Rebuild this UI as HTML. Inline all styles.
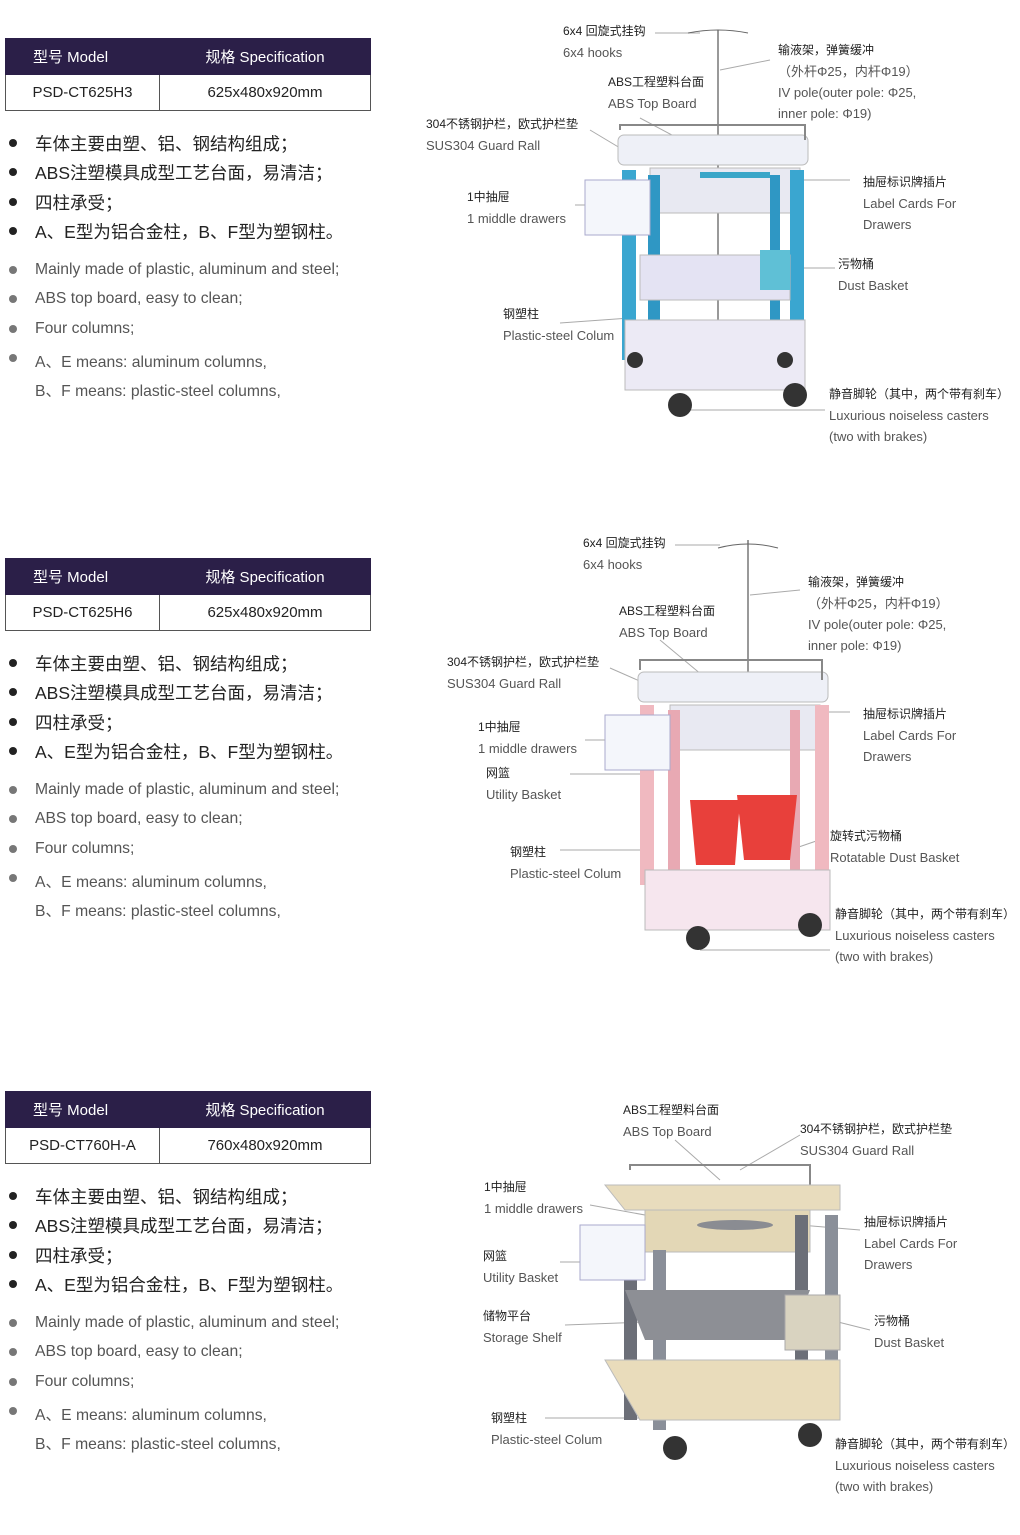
<!DOCTYPE html>
<html><head><meta charset="utf-8"><style>
*{margin:0;padding:0;box-sizing:border-box}
body{width:1020px;height:1535px;background:#fff;position:relative;overflow:hidden;font-family:"Liberation Sans","Noto Sans CJK SC",sans-serif}
.a{position:absolute;white-space:nowrap}
table{position:absolute;left:5px;width:366px;border-collapse:collapse;font-size:15px}
th{background:#2b1f48;color:#fff;font-weight:normal;height:36px;border:1px solid #2b1f48}
th.m{text-align:left;padding-left:27px}
td{height:36px;text-align:center;border:1px solid #555;color:#222}
.cn{font-size:17.5px;color:#222}
.en{font-size:15.7px;color:#555}
.dot{position:absolute;width:8px;height:8px;border-radius:50%}
.l{font-size:12px;color:#222;position:absolute;white-space:nowrap;line-height:21px}
.l span{color:#555;display:block;font-size:13px}
svg{position:absolute;left:0;top:0}
</style></head><body>

<table style="top:38px"><tr><th class="m" style="width:154px">型号 Model</th><th>规格 Specification</th></tr><tr><td>PSD-CT625H3</td><td>625x480x920mm</td></tr></table>
<table style="top:558px"><tr><th class="m" style="width:154px">型号 Model</th><th>规格 Specification</th></tr><tr><td>PSD-CT625H6</td><td>625x480x920mm</td></tr></table>
<table style="top:1091px"><tr><th class="m" style="width:154px">型号 Model</th><th>规格 Specification</th></tr><tr><td>PSD-CT760H-A</td><td>760x480x920mm</td></tr></table>

<div style="position:absolute;left:0;top:0">
<div class="dot" style="left:9px;top:139px;background:#222"></div><div class="a cn" style="left:35px;top:131px">车体主要由塑、铝、钢结构组成；</div>
<div class="dot" style="left:9px;top:168px;background:#222"></div><div class="a cn" style="left:35px;top:160px">ABS注塑模具成型工艺台面，易清洁；</div>
<div class="dot" style="left:9px;top:198px;background:#222"></div><div class="a cn" style="left:35px;top:190px">四柱承受；</div>
<div class="dot" style="left:9px;top:227px;background:#222"></div><div class="a cn" style="left:35px;top:219px">A、E型为铝合金柱，B、F型为塑钢柱。</div>
<div class="dot" style="left:9px;top:266px;background:#777"></div><div class="a en" style="left:35px;top:261px">Mainly made of plastic, aluminum and steel;</div>
<div class="dot" style="left:9px;top:295px;background:#777"></div><div class="a en" style="left:35px;top:290px">ABS top board, easy to clean;</div>
<div class="dot" style="left:9px;top:325px;background:#777"></div><div class="a en" style="left:35px;top:320px">Four columns;</div>
<div class="dot" style="left:9px;top:354px;background:#777"></div><div class="a en" style="left:35px;top:349px">A、E means: aluminum columns,</div>
<div class="a en" style="left:35px;top:378px">B、F means: plastic-steel columns,</div>
</div>
<div style="position:absolute;left:0;top:520px">
<div class="dot" style="left:9px;top:139px;background:#222"></div><div class="a cn" style="left:35px;top:131px">车体主要由塑、铝、钢结构组成；</div>
<div class="dot" style="left:9px;top:168px;background:#222"></div><div class="a cn" style="left:35px;top:160px">ABS注塑模具成型工艺台面，易清洁；</div>
<div class="dot" style="left:9px;top:198px;background:#222"></div><div class="a cn" style="left:35px;top:190px">四柱承受；</div>
<div class="dot" style="left:9px;top:227px;background:#222"></div><div class="a cn" style="left:35px;top:219px">A、E型为铝合金柱，B、F型为塑钢柱。</div>
<div class="dot" style="left:9px;top:266px;background:#777"></div><div class="a en" style="left:35px;top:261px">Mainly made of plastic, aluminum and steel;</div>
<div class="dot" style="left:9px;top:295px;background:#777"></div><div class="a en" style="left:35px;top:290px">ABS top board, easy to clean;</div>
<div class="dot" style="left:9px;top:325px;background:#777"></div><div class="a en" style="left:35px;top:320px">Four columns;</div>
<div class="dot" style="left:9px;top:354px;background:#777"></div><div class="a en" style="left:35px;top:349px">A、E means: aluminum columns,</div>
<div class="a en" style="left:35px;top:378px">B、F means: plastic-steel columns,</div>
</div>
<div style="position:absolute;left:0;top:1053px">
<div class="dot" style="left:9px;top:139px;background:#222"></div><div class="a cn" style="left:35px;top:131px">车体主要由塑、铝、钢结构组成；</div>
<div class="dot" style="left:9px;top:168px;background:#222"></div><div class="a cn" style="left:35px;top:160px">ABS注塑模具成型工艺台面，易清洁；</div>
<div class="dot" style="left:9px;top:198px;background:#222"></div><div class="a cn" style="left:35px;top:190px">四柱承受；</div>
<div class="dot" style="left:9px;top:227px;background:#222"></div><div class="a cn" style="left:35px;top:219px">A、E型为铝合金柱，B、F型为塑钢柱。</div>
<div class="dot" style="left:9px;top:266px;background:#777"></div><div class="a en" style="left:35px;top:261px">Mainly made of plastic, aluminum and steel;</div>
<div class="dot" style="left:9px;top:295px;background:#777"></div><div class="a en" style="left:35px;top:290px">ABS top board, easy to clean;</div>
<div class="dot" style="left:9px;top:325px;background:#777"></div><div class="a en" style="left:35px;top:320px">Four columns;</div>
<div class="dot" style="left:9px;top:354px;background:#777"></div><div class="a en" style="left:35px;top:349px">A、E means: aluminum columns,</div>
<div class="a en" style="left:35px;top:378px">B、F means: plastic-steel columns,</div>
</div>

<svg width="1020" height="1535">
<g stroke="#aaa" stroke-width="1" fill="none">
<path d="M655 33H700M770 60L720 70M640 118L700 150M590 130L640 160M575 205L690 205M850 180L770 180M835 268L790 268M560 323L630 318M825 410L690 410"/>
<path d="M675 545H720M800 590L750 595M660 640L720 690M610 668L660 690M585 740L690 740M850 712L780 712M570 774L640 774M825 838L790 850M560 850L640 850M830 950L700 950"/>
<path d="M675 1140L720 1180M800 1135L740 1170M590 1205L700 1225M860 1230L800 1225M560 1262L610 1262M565 1325L700 1320M870 1330L830 1320M545 1418L680 1418"/>
</g>
<g>
<line x1="718" y1="30" x2="718" y2="330" stroke="#999" stroke-width="2"/>
<path d="M688 33 Q718 27 748 33" stroke="#666" fill="none"/>
<rect x="618" y="135" width="190" height="30" rx="6" fill="#eef0f7" stroke="#bbb"/>
<path d="M620 130 V125 H805 V140" stroke="#888" fill="none" stroke-width="2"/>
<rect x="650" y="168" width="150" height="45" fill="#e8e9f2" stroke="#bbb"/>
<rect x="700" y="172" width="70" height="6" fill="#3aa6c8"/>
<rect x="622" y="170" width="14" height="190" fill="#3aa6d0"/>
<rect x="648" y="175" width="12" height="190" fill="#2f97c4"/>
<rect x="790" y="170" width="14" height="190" fill="#3aa6d0"/>
<rect x="770" y="175" width="10" height="180" fill="#2f97c4"/>
<rect x="640" y="255" width="150" height="45" fill="#e4e3f3" stroke="#bbb"/>
<rect x="760" y="250" width="30" height="40" fill="#5fc0d6"/>
<rect x="585" y="180" width="65" height="55" fill="#f4f6fb" stroke="#aac"/>
<rect x="625" y="320" width="180" height="70" fill="#eceaf5" stroke="#bbb"/>
<circle cx="680" cy="405" r="12" fill="#333"/><circle cx="795" cy="395" r="12" fill="#333"/>
<circle cx="635" cy="360" r="8" fill="#333"/><circle cx="785" cy="360" r="8" fill="#333"/>
</g>
<g>
<line x1="748" y1="540" x2="748" y2="700" stroke="#999" stroke-width="2"/>
<path d="M718 548 Q748 540 778 548" stroke="#666" fill="none"/>
<rect x="638" y="672" width="190" height="30" rx="6" fill="#eef0f7" stroke="#bbb"/>
<path d="M640 670 V660 H822 V680" stroke="#888" fill="none" stroke-width="2"/>
<rect x="670" y="705" width="150" height="45" fill="#e8e9f2" stroke="#bbb"/>
<rect x="640" y="705" width="14" height="180" fill="#f0b9c0"/>
<rect x="668" y="710" width="12" height="180" fill="#e8a9b3"/>
<rect x="815" y="705" width="14" height="180" fill="#f0b9c0"/>
<rect x="790" y="710" width="10" height="170" fill="#e8a9b3"/>
<rect x="605" y="715" width="65" height="55" fill="#f4f6fb" stroke="#aac"/>
<path d="M690 800 H740 L735 865 H696Z" fill="#e8403b"/>
<path d="M737 795 H797 L790 860 H744Z" fill="#e8403b"/>
<rect x="645" y="870" width="185" height="60" fill="#f6e6ee" stroke="#bbb"/>
<circle cx="698" cy="938" r="12" fill="#333"/><circle cx="810" cy="925" r="12" fill="#333"/>
</g>
<g>
<path d="M630 1170 V1165 H810 V1190" stroke="#888" fill="none" stroke-width="2"/>
<path d="M605 1185 H840 V1210 H625Z" fill="#e8dcbd" stroke="#bbb"/>
<rect x="645" y="1210" width="165" height="42" fill="#e3d7b6" stroke="#bbb"/>
<ellipse cx="735" cy="1225" rx="38" ry="5" fill="#8a8c92"/>
<rect x="624" y="1250" width="13" height="170" fill="#6c6f78"/>
<rect x="653" y="1250" width="13" height="180" fill="#8a8f99"/>
<rect x="795" y="1215" width="13" height="200" fill="#6c6f78"/>
<rect x="825" y="1215" width="13" height="200" fill="#8a8f99"/>
<path d="M625 1290 H810 L790 1340 H645Z" fill="#8d8f95"/>
<rect x="580" y="1225" width="65" height="55" fill="#f4f6fb" stroke="#aac"/>
<rect x="785" y="1295" width="55" height="55" fill="#d9d3c0" stroke="#aaa"/>
<path d="M605 1360 H840 V1420 H640Z" fill="#e9dcbb" stroke="#bbb"/>
<circle cx="675" cy="1448" r="12" fill="#333"/><circle cx="810" cy="1435" r="12" fill="#333"/>
</g>
</svg>

<div class="l" style="left:563px;top:21px">6x4 回旋式挂钩<span>6x4 hooks</span></div>
<div class="l" style="left:778px;top:40px">输液架，弹簧缓冲<span>（外杆Φ25，内杆Φ19）</span><span>IV pole(outer pole: Φ25,</span><span>inner pole: Φ19)</span></div>
<div class="l" style="left:608px;top:72px">ABS工程塑料台面<span>ABS Top Board</span></div>
<div class="l" style="left:426px;top:114px">304不锈钢护栏，欧式护栏垫<span>SUS304 Guard Rall</span></div>
<div class="l" style="left:467px;top:187px">1中抽屉<span>1 middle drawers</span></div>
<div class="l" style="left:863px;top:172px">抽屉标识牌插片<span>Label Cards For</span><span>Drawers</span></div>
<div class="l" style="left:838px;top:254px">污物桶<span>Dust Basket</span></div>
<div class="l" style="left:503px;top:304px">钢塑柱<span>Plastic-steel Colum</span></div>
<div class="l" style="left:829px;top:384px">静音脚轮（其中，两个带有刹车）<span>Luxurious noiseless casters</span><span>(two with brakes)</span></div>
<div class="l" style="left:583px;top:533px">6x4 回旋式挂钩<span>6x4 hooks</span></div>
<div class="l" style="left:808px;top:572px">输液架，弹簧缓冲<span>（外杆Φ25，内杆Φ19）</span><span>IV pole(outer pole: Φ25,</span><span>inner pole: Φ19)</span></div>
<div class="l" style="left:619px;top:601px">ABS工程塑料台面<span>ABS Top Board</span></div>
<div class="l" style="left:447px;top:652px">304不锈钢护栏，欧式护栏垫<span>SUS304 Guard Rall</span></div>
<div class="l" style="left:478px;top:717px">1中抽屉<span>1 middle drawers</span></div>
<div class="l" style="left:863px;top:704px">抽屉标识牌插片<span>Label Cards For</span><span>Drawers</span></div>
<div class="l" style="left:486px;top:763px">网篮<span>Utility Basket</span></div>
<div class="l" style="left:830px;top:826px">旋转式污物桶<span>Rotatable Dust Basket</span></div>
<div class="l" style="left:510px;top:842px">钢塑柱<span>Plastic-steel Colum</span></div>
<div class="l" style="left:835px;top:904px">静音脚轮（其中，两个带有刹车）<span>Luxurious noiseless casters</span><span>(two with brakes)</span></div>
<div class="l" style="left:623px;top:1100px">ABS工程塑料台面<span>ABS Top Board</span></div>
<div class="l" style="left:800px;top:1119px">304不锈钢护栏，欧式护栏垫<span>SUS304 Guard Rall</span></div>
<div class="l" style="left:484px;top:1177px">1中抽屉<span>1 middle drawers</span></div>
<div class="l" style="left:864px;top:1212px">抽屉标识牌插片<span>Label Cards For</span><span>Drawers</span></div>
<div class="l" style="left:483px;top:1246px">网篮<span>Utility Basket</span></div>
<div class="l" style="left:483px;top:1306px">储物平台<span>Storage Shelf</span></div>
<div class="l" style="left:874px;top:1311px">污物桶<span>Dust Basket</span></div>
<div class="l" style="left:491px;top:1408px">钢塑柱<span>Plastic-steel Colum</span></div>
<div class="l" style="left:835px;top:1434px">静音脚轮（其中，两个带有刹车）<span>Luxurious noiseless casters</span><span>(two with brakes)</span></div>
</body></html>
